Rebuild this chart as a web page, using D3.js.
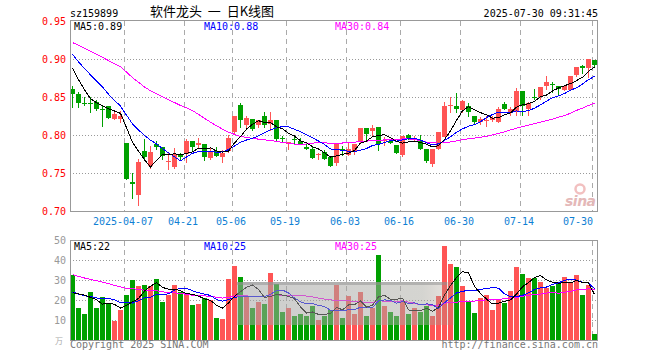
<!DOCTYPE html>
<html>
<head>
<meta charset="utf-8">
<script src="https://cdn.jsdelivr.net/npm/d3@7"></script>
<style>
body { margin: 0; background: #fff; }
text { font-family: "DejaVu Sans Mono", monospace; font-size: 10px; }
</style>
</head>
<body>
<div id="chart"></div>
<script>
// trading days shown (2025)
var dates = ["03-24","03-25","03-26","03-27","03-28","03-31",
  "04-01","04-02","04-03","04-07","04-08","04-09","04-10","04-11","04-14","04-15","04-16","04-17","04-18",
  "04-21","04-22","04-23","04-24","04-25","04-28","04-29","04-30",
  "05-06","05-07","05-08","05-09","05-12","05-13","05-14","05-15","05-16","05-19","05-20","05-21","05-22","05-23",
  "05-26","05-27","05-28","05-29","05-30",
  "06-03","06-04","06-05","06-06","06-09","06-10","06-11","06-12","06-13","06-16","06-17","06-18","06-19","06-20",
  "06-23","06-24","06-25","06-26","06-27","06-30",
  "07-01","07-02","07-03","07-04","07-07","07-08","07-09","07-10","07-11","07-14","07-15","07-16","07-17","07-18",
  "07-21","07-22","07-23","07-24","07-25","07-28","07-29","07-30"];

var open = [.861,.854,.843,.842,.844,.834,.838,.821,.821,.790,
  .738,.722,.779,.759,.788,.784,.765,.758,.776,.776,
  .793,.787,.789,.770,.779,.771,.779,.804,.840,.814,
  .821,.814,.825,.815,.820,.796,.788,.795,.793,.785,
  .782,.774,.778,.772,.763,.782,.774,.779,.792,.809,
  .805,.811,.792,.792,.787,.774,.800,.794,.794,.782,
  .762,.782,.798,.839,.838,.833,.839,.825,.818,.819,
  .820,.818,.841,.831,.832,.858,.834,.851,.851,.865,
  .867,.865,.860,.860,.879,.891,.888,.899];
var high = [.865,.857,.850,.851,.847,.838,.838,.832,.832,.790,
  .751,.769,.795,.786,.793,.784,.778,.783,.777,.795,
  .793,.796,.789,.785,.785,.780,.800,.825,.843,.826,
  .821,.820,.831,.831,.820,.799,.791,.799,.796,.788,
  .786,.777,.780,.772,.790,.786,.790,.788,.809,.809,
  .814,.811,.798,.794,.787,.799,.802,.799,.800,.782,
  .782,.804,.844,.851,.856,.846,.843,.825,.824,.826,
  .826,.837,.844,.837,.862,.858,.844,.861,.864,.878,
  .870,.865,.865,.878,.890,.893,.900,.899];
var low = [.836,.836,.839,.830,.832,.811,.821,.820,.816,.741,
  .716,.707,.766,.755,.780,.768,.754,.756,.766,.764,
  .778,.783,.766,.767,.771,.764,.777,.802,.809,.810,
  .806,.810,.810,.806,.793,.791,.781,.789,.787,.780,
  .769,.767,.768,.758,.760,.773,.773,.774,.790,.794,
  .798,.779,.786,.789,.776,.772,.794,.791,.780,.764,
  .758,.780,.798,.829,.829,.830,.824,.813,.813,.811,
  .818,.816,.833,.825,.825,.826,.826,.846,.847,.859,
  .855,.853,.858,.858,.877,.881,.875,.890];
var close = [.854,.843,.842,.841,.835,.833,.823,.828,.825,.742,
  .736,.765,.771,.778,.785,.773,.766,.776,.772,.793,
  .784,.790,.771,.779,.773,.777,.796,.825,.820,.823,
  .808,.820,.813,.820,.795,.795,.791,.794,.788,.782,
  .770,.776,.769,.760,.789,.781,.782,.788,.809,.802,
  .810,.789,.794,.790,.777,.799,.797,.797,.782,.766,
  .782,.804,.838,.840,.834,.845,.831,.818,.821,.820,
  .823,.835,.835,.834,.858,.839,.842,.850,.864,.870,
  .866,.861,.865,.878,.890,.888,.900,.893];
// volume, 10k lots
var volume = [32.4,15.8,12.8,23.9,15.8,21.3,18.6,9.3,14.8,22.4,
  30.2,27.2,27.7,27.2,30.7,18.8,22.4,27.7,23.9,23.1,
  17.3,17.8,20.8,20.1,10.8,10.3,30.7,37.2,31.7,22,
  16,19,18,33.4,27.9,14,16,12,13,12,
  17,10,12,15,27.5,11,22,13,24,12,
  16,42.7,17,14,12,19,13,16,14,17,
  12,22,47.2,38.2,36.7,26.9,18.8,13.3,20.8,22.4,
  14.8,20.4,18.4,24.3,36.7,33.2,30.9,30.9,29.2,26.2,
  27.2,28.7,31.7,28.8,32.5,22.3,27.3,3.0];

// 29 sessions before the window, estimated back from where the MA lines start
var histClose = [.950,.955,.960,.958,.952,.955,.950,.948,.953,.950,.952,.952,
  .930,.910,.890,.885,.880,.890,.885,.892,
  .940,.930,.925,.915,.910,
  .921,.908,.901,.860];
var histVolume = [42,38,45,36,40,41,37,39,44,35,38,39,
  36,31,35,30,34,33,36,32,
  26,22,27,23,24,
  18.3,16.3,29.4,21.6];

var priceTicks = [0.70, 0.75, 0.80, 0.85, 0.90, 0.95];
var volTicks = [10, 20, 30, 40, 50];
var tickDates = ["04-07","04-21","05-06","05-19","06-03","06-16","06-30","07-14","07-30"];
var tickLabels = ["2025-04-07","04-21","05-06","05-19","06-03","06-16","06-30","07-14","07-30"];

var RED = "#ff5555", GREEN = "#00a000";
var maColors = {5: "#000000", 10: "#0000ff", 30: "#ff00ff"};

function movingAvg(series, hist, n) {
    var all = hist.concat(series);
    return series.map(function (d, i) {
        var end = hist.length + i + 1;
        return d3.mean(all.slice(end - n, end));
    });
}

var svg = d3.select("#chart").append("svg")
    .attr("width", 660)
    .attr("height", 360);

var left = 70, right = 598;
var x = d3.scaleBand().domain(dates).range([left, right]);
var y = d3.scaleLinear().domain([0.70, 0.95]).range([211.3, 21.3]);
var yv = d3.scaleLinear().domain([0, 50]).range([340, 240]);

function px(v) { return Math.round(v) + 0.5; }

// grid: price panel
svg.append("g").selectAll("line")
    .data(priceTicks.slice(1, -1))
    .enter().append("line")
    .attr("x1", left).attr("x2", right)
    .attr("y1", function (d) { return px(y(d)); })
    .attr("y2", function (d) { return px(y(d)); })
    .attr("stroke", "#999").attr("stroke-dasharray", "1,2");
svg.append("g").selectAll("line")
    .data(tickDates)
    .enter().append("line")
    .attr("x1", function (d) { return x(d) + 0.5; })
    .attr("x2", function (d) { return x(d) + 0.5; })
    .attr("y1", 21).attr("y2", 211)
    .attr("stroke", "#aaa").attr("stroke-dasharray", "5,4");

// grid: volume panel
svg.append("g").selectAll("line")
    .data(volTicks.slice(0, -1))
    .enter().append("line")
    .attr("x1", left).attr("x2", right)
    .attr("y1", function (d) { return px(yv(d)); })
    .attr("y2", function (d) { return px(yv(d)); })
    .attr("stroke", "#999").attr("stroke-dasharray", "1,2");
svg.append("g").selectAll("line")
    .data(tickDates)
    .enter().append("line")
    .attr("x1", function (d) { return x(d) + 0.5; })
    .attr("x2", function (d) { return x(d) + 0.5; })
    .attr("y1", 241).attr("y2", 340)
    .attr("stroke", "#aaa").attr("stroke-dasharray", "5,4");

// sina watermark
svg.append("circle").attr("cx", 580).attr("cy", 189).attr("r", 4.5)
    .attr("fill", "none").attr("stroke", "#f2c0c0").attr("stroke-width", 2.5);
svg.append("text").attr("x", 565).attr("y", 206)
    .style("font-family", "DejaVu Sans").style("font-size", "14px")
    .style("font-style", "italic").style("font-weight", "bold")
    .style("letter-spacing", "-0.5px")
    .attr("fill", "#e4b8b8")
    .text("sina");

// candles
var idx = d3.range(dates.length);
var candles = svg.append("g").attr("shape-rendering", "crispEdges");
candles.selectAll(".wick")
    .data(idx)
    .enter().append("rect")
    .attr("x", function (i) { return x(dates[i]) + 2; })
    .attr("width", 1)
    .attr("y", function (i) { return Math.round(y(high[i])); })
    .attr("height", function (i) { return Math.max(1, Math.round(y(low[i])) - Math.round(y(high[i]))); })
    .attr("fill", function (i) { return close[i] >= open[i] ? RED : GREEN; });
candles.selectAll(".body")
    .data(idx)
    .enter().append("rect")
    .attr("x", function (i) { return x(dates[i]); })
    .attr("width", 5)
    .attr("y", function (i) { return Math.round(y(Math.max(open[i], close[i]))); })
    .attr("height", function (i) {
        return Math.max(1, Math.round(y(Math.min(open[i], close[i]))) - Math.round(y(Math.max(open[i], close[i]))));
    })
    .attr("fill", function (i) { return close[i] >= open[i] ? RED : GREEN; });

// volume bars
svg.append("g").attr("shape-rendering", "crispEdges")
    .selectAll("rect")
    .data(idx)
    .enter().append("rect")
    .attr("x", function (i) { return x(dates[i]); })
    .attr("width", 5)
    .attr("y", function (i) { return Math.round(yv(volume[i])); })
    .attr("height", function (i) { return 340 - Math.round(yv(volume[i])); })
    .attr("fill", function (i) { return close[i] >= open[i] ? RED : GREEN; });

// moving averages
var priceMA = {}, volMA = {};
[5, 10, 30].forEach(function (n) {
    priceMA[n] = movingAvg(close, histClose, n);
    volMA[n] = movingAvg(volume, histVolume, n);
});

function drawLine(values, scale, color) {
    var line = d3.line()
        .x(function (d, i) { return x(dates[i]) + 2.5; })
        .y(function (d) { return scale(d); });
    svg.append("path")
        .datum(values)
        .attr("d", line)
        .attr("fill", "none")
        .attr("stroke", color)
        .attr("stroke-width", 1)
        .attr("shape-rendering", "crispEdges");
}
[30, 10, 5].forEach(function (n) {
    drawLine(priceMA[n], y, maColors[n]);
    drawLine(volMA[n], yv, maColors[n]);
});

// washed-out band over part of the volume panel
var grad = svg.append("defs").append("linearGradient").attr("id", "band");
grad.append("stop").attr("offset", "0%").attr("stop-color", "#a4a4a4").attr("stop-opacity", 0.55);
grad.append("stop").attr("offset", "85%").attr("stop-color", "#aaaaa2").attr("stop-opacity", 0.5);
grad.append("stop").attr("offset", "100%").attr("stop-color", "#a09080").attr("stop-opacity", 0.2);
svg.append("rect")
    .attr("x", 237).attr("y", 282).attr("width", 218).attr("height", 43)
    .attr("fill", "url(#band)");
svg.append("rect")
    .attr("x", 237).attr("y", 282).attr("width", 210).attr("height", 3)
    .attr("fill", "#909090").attr("opacity", 0.5);

// frames
svg.append("rect").attr("x", 70.5).attr("y", 20.5).attr("width", 527).attr("height", 191)
    .attr("fill", "none").attr("stroke", "#999");
svg.append("rect").attr("x", 70.5).attr("y", 240.5).attr("width", 527).attr("height", 100)
    .attr("fill", "none").attr("stroke", "#999");

// axis labels
svg.append("g").selectAll("text")
    .data(priceTicks)
    .enter().append("text")
    .attr("x", 66).attr("y", function (d) { return y(d); })
    .attr("dy", "0.35em").attr("text-anchor", "end")
    .attr("fill", "#ff0000")
    .text(function (d) { return d.toFixed(2); });
svg.append("g").selectAll("text")
    .data(volTicks)
    .enter().append("text")
    .attr("x", 66).attr("y", function (d) { return yv(d); })
    .attr("dy", "0.35em").attr("text-anchor", "end")
    .attr("fill", "#999")
    .text(function (d) { return d; });
svg.append("g").selectAll("text")
    .data(tickDates)
    .enter().append("text")
    .attr("x", function (d, i) { return i === tickDates.length - 1 ? x(d) + 1 : x(d) - 1; })
    .attr("y", 225)
    .attr("text-anchor", function (d, i) { return i === tickDates.length - 1 ? "end" : "middle"; })
    .attr("fill", "#0f7fd4")
    .text(function (d, i) { return tickLabels[i]; });

// header
svg.append("text").attr("x", 70).attr("y", 17).attr("fill", "#000").text("sz159899");
svg.append("text").attr("x", 598).attr("y", 17).attr("text-anchor", "end").attr("fill", "#000")
    .text("2025-07-30 09:31:45");
svg.append("text").attr("x", 150).attr("y", 16)
    .style("font-family", "'Noto Sans CJK SC'").style("font-size", "13px")
    .attr("fill", "#000").attr("xml:space", "preserve")
    .text("软件龙头  一  日K线图");

// MA legends
var last = dates.length - 1;
var legendX = {5: 74, 10: 204, 30: 335};
[5, 10, 30].forEach(function (n) {
    svg.append("text").attr("x", legendX[n]).attr("y", 30).attr("fill", maColors[n])
        .text("MA" + n + ":" + priceMA[n][last].toFixed(2));
    svg.append("text").attr("x", legendX[n]).attr("y", 250).attr("fill", maColors[n])
        .text("MA" + n + ":" + Math.floor(volMA[n][last]));
});

// footer
svg.append("text").attr("x", 63).attr("y", 344).attr("text-anchor", "end")
    .style("font-family", "'Noto Sans CJK SC'").style("font-size", "8px")
    .attr("fill", "#aaa").text("万");
svg.append("text").attr("x", 70).attr("y", 348).attr("fill", "#777").text("Copyright 2025 SINA.COM");
svg.append("text").attr("x", 598).attr("y", 348).attr("text-anchor", "end").attr("fill", "#777")
    .text("http://finance.sina.com.cn");
</script>
</body>
</html>
